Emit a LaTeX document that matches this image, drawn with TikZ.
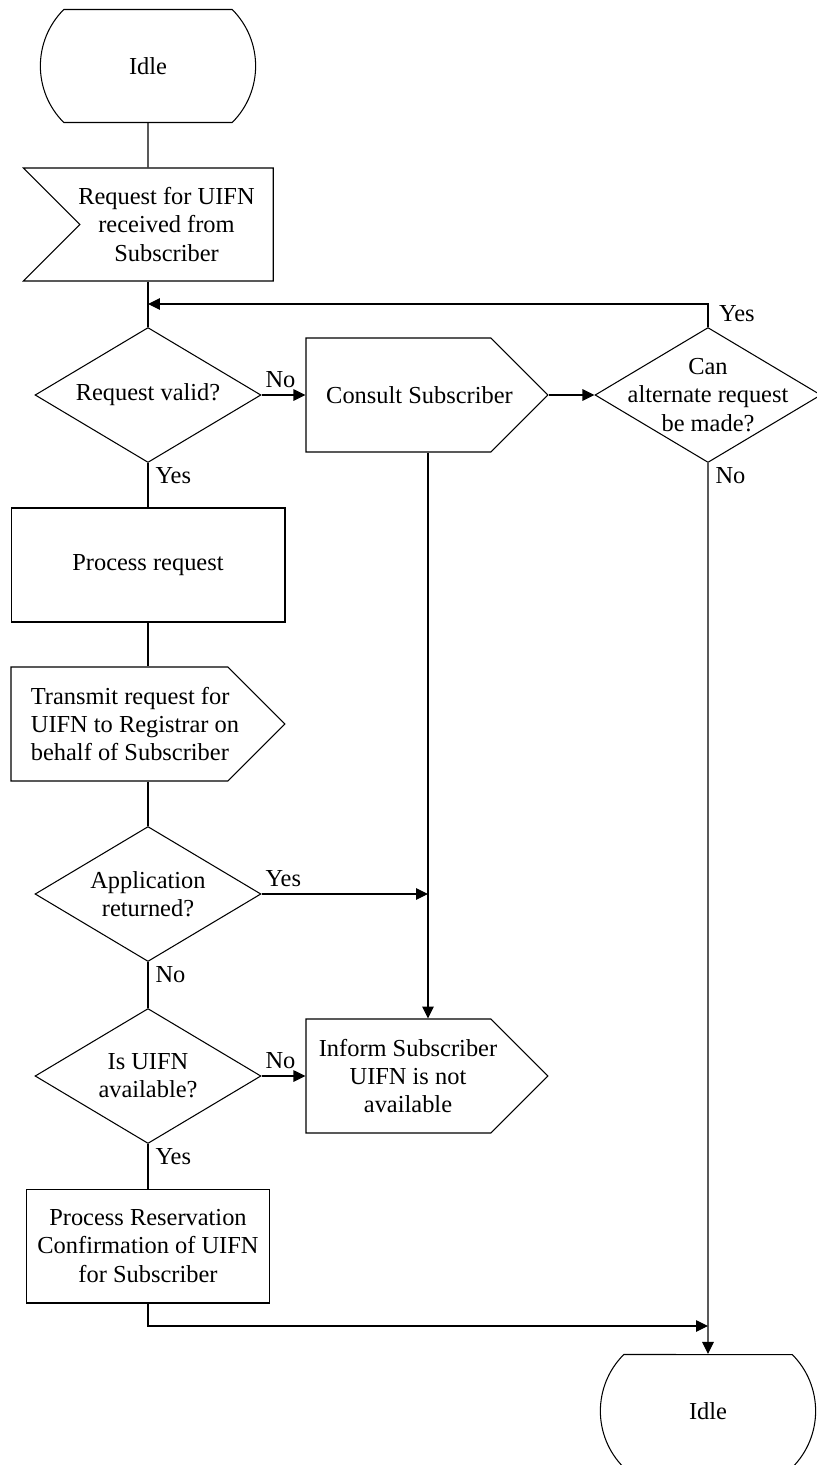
\documentclass[tikz,border=0pt]{standalone}
\usepackage{fontspec}
\setmainfont{Liberation Serif}
\usetikzlibrary{shapes.geometric,shapes.misc,shapes.symbols,arrows.meta}

\tikzset{
  idlebox/.style={rounded rectangle, rounded rectangle arc length=90, draw, minimum width=4.54cm, minimum height=2.26cm},
  inbox/.style={signal, signal to=nowhere, signal from=west, draw, minimum width=5cm, minimum height=2.26cm},
  outbox/.style={signal, signal to=east, draw, minimum width=4.84cm, minimum height=2.28cm},
  taskbox/.style={rectangle, draw, align=center, minimum height=2.28cm},
  ask/.style={diamond, draw, minimum width=4.52cm, minimum height=2.7cm, inner sep=0pt},
}

\begin{document}
\begin{tikzpicture}[x=0.02cm,y=-0.02cm,line width=0.6pt,
    >={Triangle[length=0.24cm,width=0.23cm]},
    font=\fontsize{13.9}{16}\selectfont]
  \useasboundingbox (0,0) rectangle (817,1465);

  \begin{scope}[every label/.style={align=center}]
    \node[idlebox] (idleA)    at (148,66)   {Idle};
    \node[inbox, label={[xshift=-0.2cm]center:Request for UIFN\\received from\\Subscriber}] (recv) at (176.5,224.5) {};
    \node[ask, label=center:Request valid?] (valid) at (148,395) {};
    \node[outbox, label={[xshift=0.42cm]center:Consult Subscriber}] (consult) at (398.5,395) {};
    \node[ask, label=center:{Can\\alternate request\\be made?}] (alt) at (708,395) {};
    \node[taskbox, minimum width=5.48cm] (proc) at (148,565) {Process request};
    \node[outbox, minimum width=5.48cm, label={[xshift=0.31cm, align=left]center:Transmit request for\\UIFN to Registrar on\\behalf of Subscriber}] (transmit) at (119.5,724) {};
    \node[ask, label=center:{Application\\returned?}] (returned) at (148,894) {};
    \node[ask, label=center:{Is UIFN\\available?}] (avail) at (148,1076) {};
    \node[outbox, label={[xshift=0.19cm]center:Inform Subscriber\\UIFN is not\\available}] (inform) at (398.5,1076) {};
    \node[taskbox, minimum width=4.86cm] (reserve) at (148,1246) {Process Reservation\\Confirmation of UIFN\\for Subscriber};
    \node[idlebox] (idleB)    at (708,1411) {Idle};
  \end{scope}

  \coordinate (loop)  at (148,304);
  \coordinate (meet)  at (428,894);
  \coordinate (merge) at (148,1326);

  \begin{scope}[every node/.style={inner sep=2pt}]
    \path[draw] (idleA) edge (idleA |- recv.north);
    \path[draw] (valid |- recv.south) edge (valid);
    \draw[->] (alt.north) |- node[pos=0.3, anchor=west, xshift=4pt] {Yes} (loop);
    \path[draw,->] (valid) edge node[pos=0, anchor=south west, yshift=2pt] {No} (consult);
    \path[draw,->] (consult) edge (alt);
    \path[draw,->] (alt) edge node[pos=0, anchor=north west, xshift=2pt] {No} (idleB);
    \path[draw] (valid) edge node[pos=0, anchor=north west, xshift=2pt] {Yes} (proc);
    \path[draw] (proc) edge (proc |- transmit.north);
    \path[draw] (proc |- transmit.south) edge (returned);
    \path[draw,->] (returned) edge node[pos=0, anchor=south west, yshift=2pt] {Yes} (meet);
    \draw[->] (consult.south -| meet) -- (inform.north -| meet);
    \path[draw] (returned) edge node[pos=0, anchor=north west, xshift=2pt] {No} (avail);
    \path[draw,->] (avail) edge node[pos=0, anchor=south west, yshift=2pt] {No} (inform);
    \path[draw] (avail) edge node[pos=0, anchor=north west, xshift=2pt] {Yes} (reserve);
    \draw[->] (reserve) -- (merge) -- (merge -| idleB);
  \end{scope}

\end{tikzpicture}
\end{document}
